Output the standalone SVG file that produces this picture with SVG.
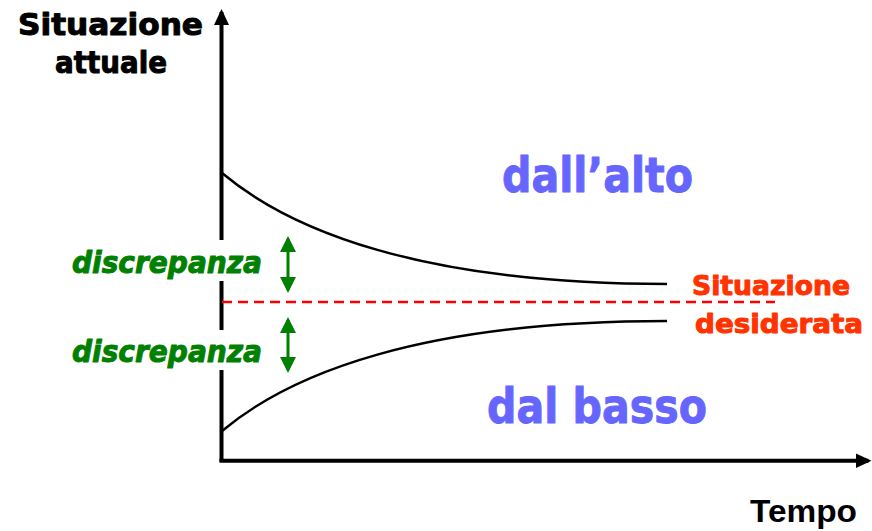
<svg xmlns="http://www.w3.org/2000/svg" width="872" height="531" viewBox="0 0 872 531">
<style>
.t{font-family:"DejaVu Sans",Verdana,sans-serif;font-weight:bold;stroke-width:1;stroke-linejoin:round}
.ax{stroke:#000;stroke-width:4;fill:none}
.cv{stroke:#000;stroke-width:2.5;fill:none}
.gr{stroke:#008000;stroke-width:3;fill:none}
</style>
<defs>
<marker id="ah" viewBox="0 0 16 16" refX="13" refY="8" markerWidth="16" markerHeight="16" orient="auto" markerUnits="userSpaceOnUse"><path d="M0,0.5 L16,8 L0,15.5 z" fill="#000"/></marker>
<marker id="gh" viewBox="0 0 16 16" refX="13" refY="8" markerWidth="16" markerHeight="16" orient="auto-start-reverse" markerUnits="userSpaceOnUse"><path d="M0,0 L16,8 L0,16 z" fill="#008000"/></marker>
</defs>
<g id="connectors">
<path class="ax" d="M221.5,462 L221.5,12" marker-end="url(#ah)"/>
<path class="ax" d="M219.5,460.7 L868.5,460.7" marker-end="url(#ah)"/>
<path class="cv" d="M222,173 C290,230 420,284 667,284"/>
<path class="cv" d="M222,431 C290,374 420,321 667,321"/>
<path d="M222,302 L775,302" stroke="#FF0000" stroke-width="2.5" stroke-dasharray="10,6" fill="none"/>
<path class="gr" d="M288,239 L288,290" marker-start="url(#gh)" marker-end="url(#gh)"/>
<path class="gr" d="M288,320 L288,370" marker-start="url(#gh)" marker-end="url(#gh)"/>
</g>
<g id="y-label">
<text class="t" x="18" y="35" font-size="30" stroke="#000" textLength="185" lengthAdjust="spacingAndGlyphs">Situazione</text>
<text class="t" x="55" y="73" font-size="30" stroke="#000" textLength="112" lengthAdjust="spacingAndGlyphs">attuale</text>
</g>
<g id="x-label">
<text x="750" y="522" font-family="Liberation Sans,Arial,sans-serif" font-weight="bold" font-size="32" textLength="107" lengthAdjust="spacingAndGlyphs">Tempo</text>
</g>
<g id="discrepanza-1">
<rect x="66" y="240" width="160" height="41" fill="#fff"/>
<text class="t" x="72" y="273" font-size="30" font-style="italic" fill="#008000" stroke="#008000" stroke-width="0.8" textLength="190" lengthAdjust="spacingAndGlyphs">discrepanza</text>
</g>
<g id="discrepanza-2">
<rect x="66" y="330" width="160" height="40" fill="#fff"/>
<text class="t" x="72" y="362" font-size="30" font-style="italic" fill="#008000" stroke="#008000" stroke-width="0.8" textLength="190" lengthAdjust="spacingAndGlyphs">discrepanza</text>
</g>
<g id="dall-alto">
<text class="t" x="502" y="192" font-size="48" fill="#6666FF" stroke="#6666FF" stroke-width="1.2" textLength="191" lengthAdjust="spacingAndGlyphs">dall’alto</text>
</g>
<g id="dal-basso">
<text class="t" x="487" y="423" font-size="48" fill="#6666FF" stroke="#6666FF" stroke-width="1.2" textLength="220" lengthAdjust="spacingAndGlyphs">dal basso</text>
</g>
<g id="situazione-desiderata">
<text class="t" x="692" y="295" font-size="26" fill="#FF3300" stroke="#FF3300" stroke-width="0.8" textLength="158" lengthAdjust="spacingAndGlyphs">Situazione</text>
<text class="t" x="695" y="333" font-size="26" fill="#FF3300" stroke="#FF3300" stroke-width="0.8" textLength="168" lengthAdjust="spacingAndGlyphs">desiderata</text>
</g>
</svg>
